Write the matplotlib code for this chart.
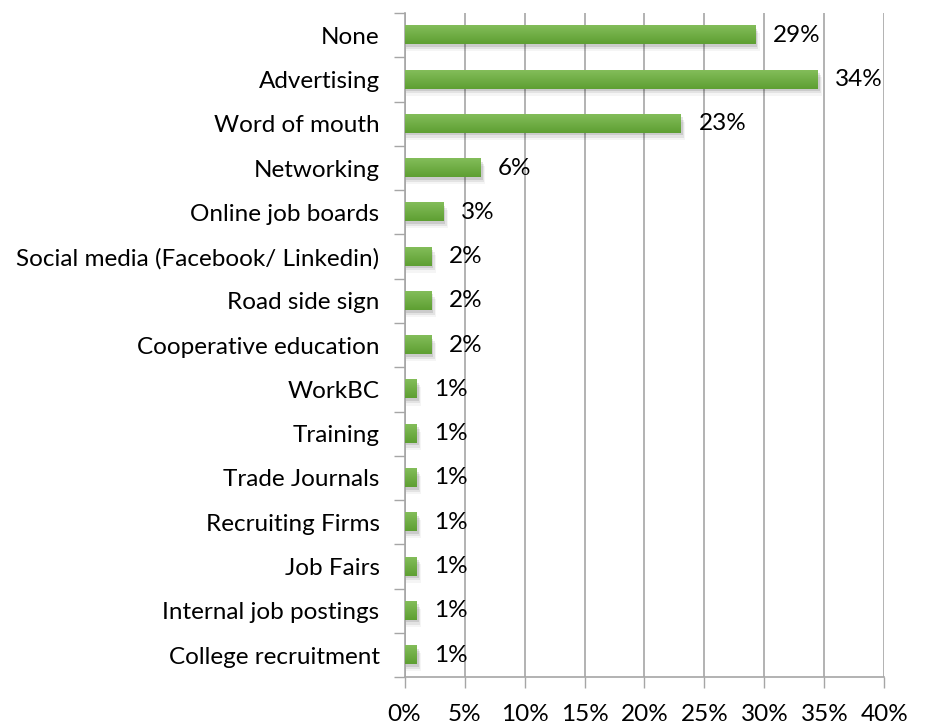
import matplotlib
matplotlib.use("Agg")
import matplotlib.pyplot as plt
import numpy as np
from matplotlib.colors import LinearSegmentedColormap

plt.rcParams['font.family'] = ['Lato', 'DejaVu Sans']

sources = ["None", "Advertising", "Word of mouth", "Networking", "Online job boards",
           "Social media (Facebook/ Linkedin)", "Road side sign", "Cooperative education",
           "WorkBC", "Training", "Trade Journals", "Recruiting Firms", "Job Fairs",
           "Internal job postings", "College recruitment"]
share = [29.2, 34.4, 23.0, 6.3, 3.2, 2.2, 2.2, 2.2, 1.0, 1.0, 1.0, 1.0, 1.0, 1.0, 1.0]
x_ticks = [0, 5, 10, 15, 20, 25, 30, 35, 40]

fs = 17.5

fig = plt.figure(figsize=(9.3, 7.25), dpi=100)
ax = fig.add_axes([0.435, 0.066, 0.516, 0.916])

n = len(sources)
y = np.arange(n)
h = 0.41
green = LinearSegmentedColormap.from_list("g", ["#83bd5a", "#5e9f32"])
grad = np.linspace(0, 1, 64).reshape(-1, 1)

for yi, v in zip(y, share):
    # soft drop shadow
    for k, a in enumerate([0.10, 0.07, 0.04]):
        d = 0.06 + k * 0.05
        ax.add_patch(plt.Rectangle((0.15, yi - h / 2 + d), v + 0.05 + k * 0.1, h,
                                   color="#000000", alpha=a, lw=0, zorder=2))
    ax.imshow(grad, cmap=green, aspect="auto", extent=(0, v, yi + h / 2, yi - h / 2),
              zorder=3, interpolation="bicubic")
    ax.text(v + 1.5, yi, f"{v:.0f}%", va="center", ha="left", fontsize=fs, zorder=4)

ax.set_xlim(0, 40)
ax.set_ylim(n - 0.5, -0.5)
ax.set_xticks(x_ticks)
ax.set_xticklabels([f"{t}%" for t in x_ticks], fontsize=fs)
ax.set_yticks(y)
ax.set_yticklabels(sources, fontsize=fs)
ax.set_yticks(np.arange(-0.5, n, 1), minor=True)
ax.tick_params(axis="y", which="major", length=0, pad=18)
ax.tick_params(axis="y", which="minor", length=8, color="#a6a6a6", width=1)
ax.tick_params(axis="x", length=8, color="#a6a6a6", width=1, pad=11)
ax.grid(axis="x", color="#a6a6a6", lw=1.2, zorder=0)
ax.set_axisbelow(True)
for s in ["top", "right"]:
    ax.spines[s].set_visible(False)
for s in ["left", "bottom"]:
    ax.spines[s].set_color("#a6a6a6")
    ax.spines[s].set_linewidth(1.2)

fig.savefig("out.png", dpi=100)
